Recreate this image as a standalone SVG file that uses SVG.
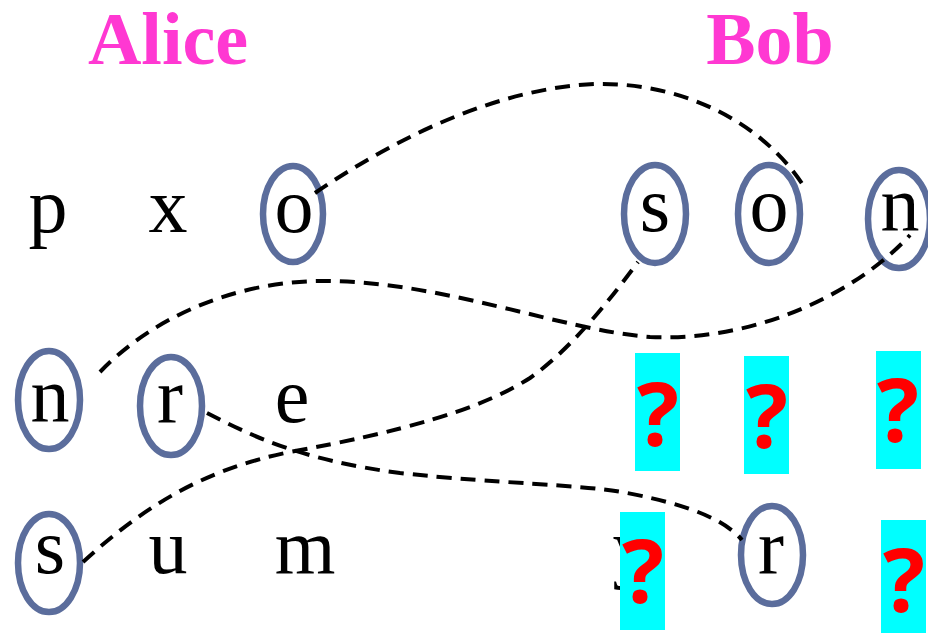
<svg xmlns="http://www.w3.org/2000/svg" width="928" height="633" viewBox="0 0 928 633">
<style>
.t{font-family:"Liberation Serif","Times New Roman",serif;font-size:78px;fill:#000;text-anchor:middle}
.h{font-family:"Liberation Serif","Times New Roman",serif;font-size:74px;font-weight:bold;fill:#ff38d2;text-anchor:middle}
.ring{fill:none;stroke:#5b6d9c;stroke-width:6.5}
.box{fill:#00ffff}
.q{font-family:"Open Sans","DejaVu Sans",sans-serif;font-size:88px;font-weight:bold;fill:#ff0000;text-anchor:middle}
.c{fill:none;stroke:#000;stroke-width:4;stroke-dasharray:15 9}
</style>
<rect width="928" height="633" fill="#fff"/>
<text class="h" x="168" y="64">Alice</text>
<text class="h" x="770" y="64">Bob</text>

<g id="alice-p"><text class="t" x="48" y="232">p</text></g>
<g id="alice-x"><text class="t" x="168" y="232">x</text></g>
<g id="alice-o"><ellipse class="ring" cx="293" cy="214" rx="30" ry="48"/><text class="t" x="294" y="232">o</text></g>
<g id="alice-n"><ellipse class="ring" cx="49" cy="400" rx="31" ry="49"/><text class="t" x="50" y="422">n</text></g>
<g id="alice-r"><ellipse class="ring" cx="171" cy="406" rx="31" ry="49"/><text class="t" x="170" y="422">r</text></g>
<g id="alice-e"><text class="t" x="292" y="422">e</text></g>
<g id="alice-s"><ellipse class="ring" cx="49" cy="563" rx="31" ry="49"/><text class="t" x="50" y="573">s</text></g>
<g id="alice-u"><text class="t" x="168" y="573">u</text></g>
<g id="alice-m"><text class="t" x="305" y="573">m</text></g>

<g id="bob-s"><ellipse class="ring" cx="655" cy="214" rx="31" ry="49"/><text class="t" x="655" y="231">s</text></g>
<g id="bob-o"><ellipse class="ring" cx="769" cy="214" rx="31" ry="49"/><text class="t" x="769" y="231">o</text></g>
<g id="bob-n"><ellipse class="ring" cx="899" cy="219" rx="31" ry="49"/><text class="t" x="900" y="231">n</text></g>
<g id="bob-y"><text class="t" x="632" y="573">y</text></g>
<g id="bob-r"><ellipse class="ring" cx="772" cy="555" rx="31" ry="49"/><text class="t" x="771" y="573">r</text></g>

<g id="q1"><rect class="box" x="635" y="353" width="45" height="118"/><text class="q" x="658" y="446">?</text></g>
<g id="q2"><rect class="box" x="744" y="356" width="45" height="118"/><text class="q" x="767" y="448">?</text></g>
<g id="q3"><rect class="box" x="876" y="351" width="45" height="118"/><text class="q" x="898" y="442">?</text></g>
<g id="q4"><rect class="box" x="620" y="512" width="45" height="118"/><text class="q" x="643" y="603">?</text></g>
<g id="q5"><rect class="box" x="881" y="520" width="45" height="113"/><text class="q" x="904" y="612">?</text></g>

<g id="connectors">
<path class="c" d="M315,193 C400,135 500,88 595,84 C680,82 760,120 803,185"/>
<path class="c" d="M100,372 C150,320 230,282 320,281 C440,280 560,330 650,337 C760,342 860,290 910,235"/>
<path class="c" d="M83,562 C140,510 200,470 290,452 C400,432 480,410 530,378 C570,350 610,300 638,262"/>
<path class="c" d="M207,413 C250,435 300,460 400,473 C500,484 580,484 627,493 C690,505 725,520 742,540"/>
</g>
</svg>
